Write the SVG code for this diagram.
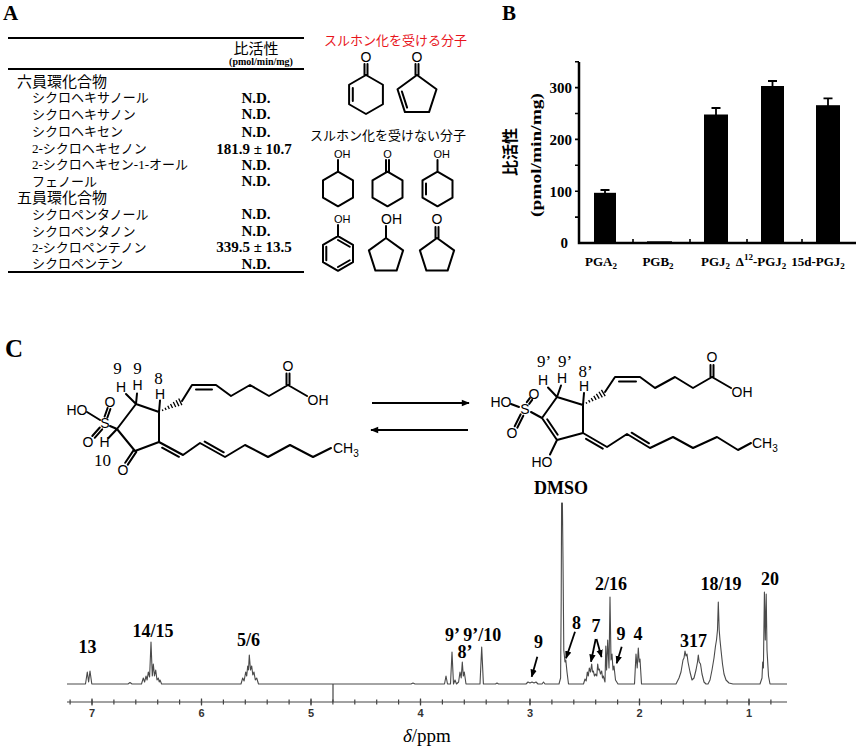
<svg xmlns="http://www.w3.org/2000/svg" width="860" height="749" viewBox="0 0 860 749">
<style>
.bd{fill:none;stroke:#000;stroke-width:2;stroke-linecap:round;stroke-linejoin:round}
.rl{fill:none;stroke:#000;stroke-width:1.8}
.at{font-family:"Liberation Sans",Arial,sans-serif;font-size:14px;fill:#000}
.atm{font-family:"Liberation Sans",Arial,sans-serif;font-size:14px;text-anchor:middle;fill:#000}
.sm{font-family:"Liberation Sans",Arial,sans-serif;font-size:11px;fill:#000}
.jp{font-family:"Noto Sans CJK JP",sans-serif;font-size:13px;fill:#000}
.jh{font-family:"Noto Sans CJK JP",sans-serif;font-size:15px;fill:#000}
.ser{font-family:"Liberation Serif","Times New Roman",serif}
.val{font-family:"Liberation Serif","Times New Roman",serif;font-weight:bold;font-size:15px;text-anchor:middle}
.pl{font-family:"Liberation Serif","Times New Roman",serif;font-weight:bold;font-size:18px;text-anchor:middle}
.num{font-family:"Liberation Serif","Times New Roman",serif;font-size:17px;text-anchor:middle}
.yt{font-family:"Liberation Serif","Times New Roman",serif;font-weight:bold;font-size:15px;text-anchor:end}
.xl{font-family:"Liberation Serif","Times New Roman",serif;font-weight:bold;font-size:13px;text-anchor:middle}
.tk{font-family:"Liberation Sans",Arial,sans-serif;font-weight:bold;font-size:11px;text-anchor:middle;fill:#333}
.lab{font-family:"Liberation Serif","Times New Roman",serif;font-weight:bold}
.conn{fill:none;stroke:#000;stroke-width:1.8}
</style>
<defs>
<marker id="ah" viewBox="0 0 10 10" refX="9" refY="5" markerWidth="8" markerHeight="8" markerUnits="userSpaceOnUse" orient="auto"><path d="M0,1 L10,5 L0,9 Z" fill="#000"/></marker>
<marker id="ah2" viewBox="0 0 10 10" refX="9" refY="5" markerWidth="9" markerHeight="8" markerUnits="userSpaceOnUse" orient="auto"><path d="M0,1 L10,5 L0,9 Z" fill="#000"/></marker>
<path id="hw" d="M4,-0.8V0.8 M7.3,-1.3V1.3 M10.6,-1.8V1.8 M13.9,-2.3V2.3 M17.2,-2.8V2.8 M20.5,-3.3V3.3 M23.6,-3.7V3.7" fill="none" stroke="#000" stroke-width="1.3"/>
</defs>
<rect width="860" height="749" fill="#fff"/>

<!-- Panel labels -->
<text x="3" y="20" class="lab" font-size="21">A</text>
<text x="502" y="20" class="lab" font-size="21">B</text>
<text x="5" y="357" class="lab" font-size="25">C</text>

<!-- Panel A table -->
<g id="tableA">
<line class="rl" x1="8" y1="38" x2="304" y2="38"/>
<line class="rl" x1="8" y1="69" x2="304" y2="69"/>
<line class="rl" x1="8" y1="272" x2="304" y2="272"/>
<text x="256" y="54" class="jh" text-anchor="middle">比活性</text>
<text x="261" y="65" class="ser" font-weight="bold" font-size="10" text-anchor="middle">(pmol/min/mg)</text>
<text x="17" y="87" class="jh" font-size="14.5">六員環化合物</text>
<text x="32" y="102" class="jp">シクロヘキサノール</text>
<text x="32" y="118.5" class="jp">シクロヘキサノン</text>
<text x="32" y="136" class="jp">シクロヘキセン</text>
<text x="32" y="153" class="jp"><tspan class="ser">2-</tspan>シクロヘキセノン</text>
<text x="32" y="169" class="jp"><tspan class="ser">2-</tspan>シクロヘキセン<tspan class="ser">-1-</tspan>オール</text>
<text x="32" y="185.5" class="jp">フェノール</text>
<text x="17" y="203" class="jh" font-size="14.5">五員環化合物</text>
<text x="32" y="218.5" class="jp">シクロペンタノール</text>
<text x="32" y="235.5" class="jp">シクロペンタノン</text>
<text x="32" y="251.5" class="jp"><tspan class="ser">2-</tspan>シクロペンテノン</text>
<text x="32" y="268" class="jp">シクロペンテン</text>
<text x="256" y="102.5" class="val">N.D.</text>
<text x="256" y="119" class="val">N.D.</text>
<text x="256" y="136.5" class="val">N.D.</text>
<text x="254" y="153.5" class="val">181.9 ± 10.7</text>
<text x="256" y="169.5" class="val">N.D.</text>
<text x="256" y="186" class="val">N.D.</text>
<text x="256" y="219" class="val">N.D.</text>
<text x="256" y="236" class="val">N.D.</text>
<text x="254" y="252" class="val">339.5 ± 13.5</text>
<text x="256" y="268.5" class="val">N.D.</text>
</g>

<!-- Panel A molecules -->
<g id="molsA">
<text x="395.5" y="45" class="jp" style="fill:#e8141c" text-anchor="middle">スルホン化を受ける分子</text>
<text x="388" y="140" class="jp" text-anchor="middle">スルホン化を受けない分子</text>
<g id="m1">
<path class="bd" d="M366,75 L382.9,84.75 L382.9,104.25 L366,114 L349.1,104.25 L349.1,84.75 Z M352.8,88 V101 M364.5,75 V64 M367.5,75 V64"/>
<text x="366" y="62" class="atm">O</text>
</g>
<g id="m2">
<path class="bd" d="M417,75 L436.5,89.2 L429.05,112.1 L404.95,112.1 L397.5,89.2 Z M401.9,91.5 L407.1,107.6 M415.5,75 V64 M418.5,75 V64"/>
<text x="417" y="62" class="atm">O</text>
</g>
<g id="m3">
<path class="bd" d="M338,171.7 L353,180.35 L353,197.65 L338,206.3 L323,197.65 L323,180.35 Z M338,171.7 V160"/>
<text x="334" y="158" class="sm">OH</text>
</g>
<g id="m4">
<path class="bd" d="M387.5,171.7 L402.5,180.35 L402.5,197.65 L387.5,206.3 L372.5,197.65 L372.5,180.35 Z M386,171.7 V160 M389,171.7 V160"/>
<text x="387.5" y="158" class="sm" font-size="12" text-anchor="middle">O</text>
</g>
<g id="m5">
<path class="bd" d="M437.5,171.7 L452.5,180.35 L452.5,197.65 L437.5,206.3 L422.5,197.65 L422.5,180.35 Z M426,183.5 V194.5 M437.5,171.7 V160"/>
<text x="433.5" y="158" class="sm">OH</text>
</g>
<g id="m6">
<path class="bd" d="M338,236.2 L353,244.85 L353,262.15 L338,270.8 L323,262.15 L323,244.85 Z M338,240 L349.7,246.75 M349.7,260.25 L338,267 M326.3,260.25 L326.3,246.75 M338,236.2 V225"/>
<text x="334" y="223" class="sm">OH</text>
</g>
<g id="m7">
<path class="bd" d="M386,238 L403.1,250.4 L396.6,270.6 L375.4,270.6 L368.9,250.4 Z M386,238 V226"/>
<text x="381" y="223.5" class="at" font-size="13">OH</text>
</g>
<g id="m8">
<path class="bd" d="M437,238 L454.1,250.4 L447.6,270.6 L426.4,270.6 L419.9,250.4 Z M435.5,238 V227 M438.5,238 V227"/>
<text x="437" y="224" class="atm">O</text>
</g>
</g>

<!-- Panel B chart -->
<g id="chartB">
<path d="M579,62 V243 H856" fill="none" stroke="#000" stroke-width="2.5"/>
<path d="M575,61.7H579 M575,87.6H579 M575,113.5H579 M575,139.4H579 M575,165.3H579 M575,191.2H579 M575,217.1H579" stroke="#000" stroke-width="1.6"/>
<path d="M633,243V239 M690,243V239 M747,243V239 M802,243V239" stroke="#000" stroke-width="1.6"/>
<text x="572" y="93" class="yt">300</text>
<text x="572" y="144.8" class="yt">200</text>
<text x="572" y="196.6" class="yt">100</text>
<text x="568" y="248.4" class="yt">0</text>
<g id="bars">
<rect x="594" y="192.8" width="22" height="50.2"/>
<rect x="647" y="241.3" width="25" height="1.7"/>
<rect x="704" y="114.5" width="24" height="128.5"/>
<rect x="761" y="86" width="23" height="157"/>
<rect x="816" y="105.2" width="24" height="137.8"/>
<path d="M605,193V190 M600.5,190H609.5 M716,115V108 M711.5,108H720.5 M772.5,87V81 M768,81H777 M828,106V98.3 M823.5,98.3H832.5" stroke="#000" stroke-width="1.8"/>
</g>
<text x="601" y="266" class="xl">PGA<tspan font-size="9" dy="3">2</tspan></text>
<text x="658" y="266" class="xl">PGB<tspan font-size="9" dy="3">2</tspan></text>
<text x="715.5" y="266" class="xl">PGJ<tspan font-size="9" dy="3">2</tspan></text>
<text x="761" y="266" class="xl">Δ<tspan font-size="9" dy="-6">12</tspan><tspan dy="6">-PGJ</tspan><tspan font-size="9" dy="3">2</tspan></text>
<text x="818" y="266" class="xl">15d-PGJ<tspan font-size="9" dy="3">2</tspan></text>
<text transform="translate(516,152) rotate(-90)" text-anchor="middle" font-family="Noto Sans CJK JP, sans-serif" font-weight="bold" font-size="16">比活性</text>
<text transform="translate(541,155) rotate(-90)" text-anchor="middle" class="ser" font-weight="bold" font-size="14" textLength="124" lengthAdjust="spacingAndGlyphs">(pmol/min/mg)</text>
</g>

<!-- Panel C left structure -->
<g id="structL">
<path class="bd" d="M87,412 L100,420 M110,426 L117,429 M117,429 L136,404 L159,412 L159,442 L135,451 Z M117,429 L108.5,438 M136,404 L126,394 M136,404 L137,393.5 M159,412 L160,400.5"/>
<path class="bd" d="M104.6,416.5 L107.6,408 M107.4,417.5 L110.4,409 M99.8,427.5 L92.3,436 M102.2,429.3 L94.7,437.8 M133.7,450.1 L125.2,462.8 M136.3,451.9 L127.8,464.6"/>
<path class="bd" d="M182,401 L192,385 L216,385 L231,396 L250,385 L269,396 L288,385 L307,396 M196,389.5 L212,389.5 M286.5,385 V373.5 M289.5,385 V373.5"/>
<path class="bd" d="M159,442 L183,455 L200,443 L225,457 L245,445 L268,457 L290,445 L313,457 L331,448 M162.1,447.7 L178.9,456.8 M204.7,441.6 L223.7,452.3"/>
<use href="#hw" transform="translate(159,412) rotate(-25.6)"/>
<text x="77" y="415" class="atm">HO</text>
<text x="105" y="428" class="atm">S</text>
<text x="110" y="407" class="atm">O</text>
<text x="88" y="447" class="atm">O</text>
<text x="104.5" y="447" class="atm">H</text>
<text x="123" y="475" class="atm">O</text>
<text x="121" y="392" class="atm">H</text>
<text x="137.5" y="390" class="atm">H</text>
<text x="160" y="398.5" class="atm">H</text>
<text x="288" y="371" class="atm">O</text>
<text x="318" y="405" class="atm">OH</text>
<text x="333" y="453" class="at">CH<tspan font-size="10" dy="4">3</tspan></text>
<text x="117.5" y="373.5" class="num">9</text>
<text x="137.5" y="373.5" class="num">9</text>
<text x="158.5" y="384" class="num">8</text>
<text x="102.5" y="466" class="num">10</text>
</g>

<!-- Panel C right structure -->
<g id="structR">
<path class="bd" d="M511,404 L519,407 M531,412 L542,418 M542,418 L557,397 L583,405 L583,433 L557,440 Z M547.2,419.3 L557.7,434.7 M557,440 L550,454.5 M557,397 L548,387.5 M557,397 L561,385.5 M583,405 L584,393"/>
<path class="bd" d="M526.8,402.1 L529.8,398.1 M529.2,403.9 L532.2,399.9 M520.7,414.3 L514.7,426.3 M523.3,415.7 L517.3,427.7"/>
<path class="bd" d="M605,392 L615,377 L640,377 L655,388 L675,377 L693,388 L712,377 L731,388 M619,381.5 L636,381.5 M710.5,377 V365 M713.5,377 V365"/>
<path class="bd" d="M583,433 L607,447 L627,434 L650,448 L673,437 L693,448 L717,437 L738,450 L751,443 M586,438.8 L602.8,448.6 M631.6,432.7 L649,443.3"/>
<use href="#hw" transform="translate(583,405) rotate(-30.6)"/>
<text x="501" y="407" class="atm">HO</text>
<text x="525" y="414" class="atm">S</text>
<text x="534" y="399" class="atm">O</text>
<text x="512" y="438" class="atm">O</text>
<text x="542" y="467" class="atm">HO</text>
<text x="543" y="385" class="atm">H</text>
<text x="562" y="383" class="atm">H</text>
<text x="584" y="391" class="atm">H</text>
<text x="712" y="362" class="atm">O</text>
<text x="742" y="397" class="atm">OH</text>
<text x="752" y="448" class="at">CH<tspan font-size="10" dy="4">3</tspan></text>
<text x="544" y="367" class="num">9’</text>
<text x="565" y="367" class="num">9’</text>
<text x="585.5" y="377" class="num">8’</text>
</g>

<!-- connectors: reaction arrows and spectrum pointer arrows -->
<g id="connectors">
<path class="conn" stroke-width="2.5" d="M372,403 H469" marker-end="url(#ah2)"/>
<path class="conn" stroke-width="2.5" d="M468,430 H371" marker-end="url(#ah2)"/>
<path class="conn" d="M537.3,656.7 L531.7,676.7" marker-end="url(#ah)"/>
<path class="conn" d="M575,631.7 L566,658.3" marker-end="url(#ah)"/>
<path class="conn" d="M595.7,639 L591,661.7" marker-end="url(#ah)"/>
<path class="conn" d="M596.5,639 L601.5,657" marker-end="url(#ah)"/>
<path class="conn" d="M621.7,646.7 L616.7,663.3" marker-end="url(#ah)"/>
</g>

<!-- NMR spectrum -->
<g id="spectrum">
<path d="M67,702 H787" stroke="#444" stroke-width="1.2" fill="none"/>
<path d="M69.5,702 H772" stroke="#444" stroke-width="5" stroke-dasharray="1.2 20.7" fill="none"/>
<path d="M91.4,702 H760" stroke="#444" stroke-width="7" stroke-dasharray="1.2 108.3" fill="none"/>
<path d="M333,684 V702" stroke="#444" stroke-width="1.2"/>
<text x="92" y="717" class="tk">7</text>
<text x="201.5" y="717" class="tk">6</text>
<text x="311" y="717" class="tk">5</text>
<text x="420.5" y="717" class="tk">4</text>
<text x="530" y="717" class="tk">3</text>
<text x="639.5" y="717" class="tk">2</text>
<text x="749" y="717" class="tk">1</text>
<text x="403" y="742" class="ser" font-size="19"><tspan font-style="italic">δ</tspan>/ppm</text>
<path fill="none" stroke="#4a4a4a" stroke-width="1.1" stroke-linejoin="round" d="M67,684 L85.5,684 L87.3,672 L88.6,682 L90,671 L91.8,684 L128,684 L130,682.5 L132,684 L141.5,684 L143.3,678 L144.6,682 L146,676 L147.1,680 L148.3,672 L149.6,677 L151,642 L152.3,676 L153.3,664 L154.5,676 L155.7,670 L157,680 L158.3,678 L159.2,682 L160,680 L161.6,684 L241,684 L242.7,678 L244.1,681 L245.7,672 L246.7,676 L247.7,666 L248.5,670 L249.3,655 L250.5,670 L251.7,666 L252.8,675 L254,672 L255.3,680 L256.7,678 L258.5,684 L411,684 L413,683 L415,684 L444.5,684 L446,676 L447.5,684 L450.5,684 L452,652 L453.5,684 L455,680 L456.5,684 L458.6,682 L460,672 L461.2,678 L462.3,662 L463.3,676 L464.3,672 L466,684 L480,684 L481.7,647 L483.4,684 L495.5,684 L497,683 L498.5,684 L526,684 L528,682 L530,683 L532,682 L534,683 L536,682 L538,684 L542,684 L543.5,682 L545,684 L559,684 L560.6,678 L561.2,600 L561.6,503 L562.4,503 L563,560 L563.8,650 L565,662 L565.8,660 L567,672 L568.5,684 L583.5,684 L585,679 L586.2,681 L587.3,672 L588.3,676 L589.3,668 L590.5,672 L591.7,664 L592.5,672 L593.3,671 L594.5,676 L595.7,674 L596.8,676 L597.7,664 L598.5,670 L599.3,669 L600.5,674 L601.7,671 L602.5,678 L603.3,676 L605,682 L605.8,646 L606.6,670 L607.7,640 L609,668 L610,597 L611,660 L612,654 L613,670 L614,666 L615.5,680 L618,684 L634.5,684 L636,654 L637.2,668 L638.3,648 L639.2,662 L640,659 L641.5,684 L676,684 L679,678 L681,672 L683,660 L684,658 L685,651 L686,656 L687,654 L688,662 L690,672 L692,680 L694,678 L696,670 L697.5,662 L698.3,655 L699.2,662 L700.5,664 L702,674 L704,682 L706,684 L708,684 L710,680 L712,670 L714,658 L715.5,646 L716.5,640 L717.5,630 L718.3,602 L719.2,630 L720,640 L721,650 L722.5,664 L724,674 L726,680 L729,683 L733,684 L760,684 L762,678 L762.7,662 L763.4,668 L764.4,592 L765.3,640 L766.2,594 L767,650 L768.5,676 L770,684 L787,684"/>
<text x="561" y="494" class="pl" font-size="13">DMSO</text>
<text x="87.5" y="653" class="pl">13</text>
<text x="153" y="637" class="pl">14/15</text>
<text x="248.5" y="646" class="pl">5/6</text>
<text x="445" y="641" class="lab" font-size="18">9’ 9’/10</text>
<text x="465" y="658" class="pl">8’</text>
<text x="538.5" y="648" class="pl">9</text>
<text x="576.5" y="629" class="pl">8</text>
<text x="596" y="632" class="pl">7</text>
<text x="611" y="590" class="pl">2/16</text>
<text x="621" y="640" class="pl">9</text>
<text x="638" y="640" class="pl">4</text>
<text x="693.5" y="647" class="pl">317</text>
<text x="721" y="590" class="pl">18/19</text>
<text x="770" y="585" class="pl">20</text>
</g>
</svg>
